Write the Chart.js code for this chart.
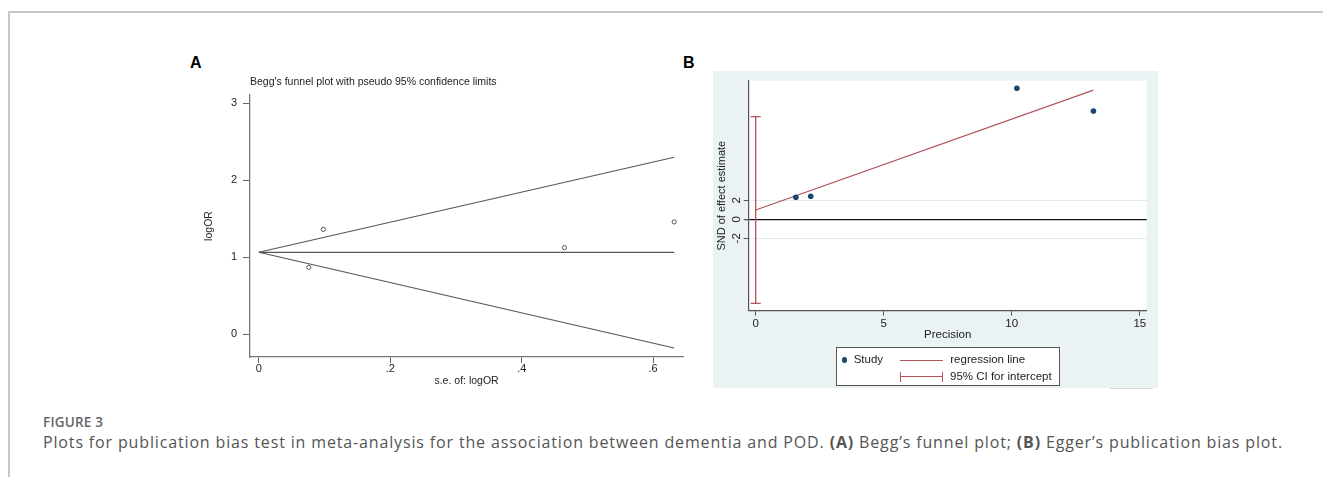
<!DOCTYPE html>
<html>
<head>
<meta charset="utf-8">
<script src="https://cdn.jsdelivr.net/npm/chart.js@4/dist/chart.umd.min.js"></script>
<style>
  html, body { margin: 0; padding: 0; background: #fff; }
  body { width: 1323px; height: 477px; position: relative; overflow: hidden; font-family: "Liberation Sans", Arial, sans-serif; }
  .frame { position: absolute; left: 8px; top: 11px; right: -4px; bottom: -4px; border-left: 2px solid #c8c8c8; border-top: 2px solid #c8c8c8; }
  .panel-letter { position: absolute; font-size: 16px; line-height: 16px; font-weight: bold; color: #000; }
  canvas { position: absolute; }
  #egger { background: #eaf2f3; }
  #eggerLegend { position: absolute; left: 835.7px; top: 347.3px; width: 222px; height: 37px; border: 1px solid #555; background: #fff; font-size: 11.5px; line-height: 11.5px; color: #222; }
  #eggerLegend span { position: absolute; white-space: nowrap; }
  .figno { position: absolute; left: 43px; top: 414px; font-family: "Open Sans", sans-serif; font-size: 13.5px; line-height: 16px; font-weight: 600; color: #666; letter-spacing: 0.2px; }
  .caption { position: absolute; left: 43px; top: 432px; font-family: "Open Sans", sans-serif; font-size: 16px; line-height: 20px; letter-spacing: 0.85px; color: #555; white-space: nowrap; }
  .caption b { font-weight: 700; }
</style>
</head>
<body>
<div class="frame"></div>
<div class="panel-letter" style="left:190px; top:54.6px;">A</div>
<div class="panel-letter" style="left:683px; top:54.6px;">B</div>

<canvas id="begg" width="492" height="317" style="left:196px; top:70px;"></canvas>
<canvas id="egger" width="445" height="317" style="left:713px; top:71px;"></canvas>
<div id="eggerLegend"></div>
<div style="position:absolute; left:1110px; top:388px; width:43px; height:1px; background:#d4d8d9;"></div>

<div class="figno">FIGURE 3</div>
<div class="caption">Plots for publication bias test in meta-analysis for the association between dementia and POD. <b>(A)</b> Begg’s funnel plot; <b>(B)</b> Egger’s publication bias plot.</div>

<script>
// A: Begg's funnel plot
const beggSe = [0.076, 0.098, 0.465, 0.632];
const beggLogOR = [0.867, 1.36, 1.123, 1.457];
const beggLimitSe = [0, 0.632];
const beggUpper = [1.062, 2.296];
const beggLower = [1.062, -0.179];
const beggPooled = [1.062, 1.062];
const beggXTicks = [0, 0.2, 0.4, 0.6];
const beggXTickLabels = ['0', '.2', '.4', '.6'];
const beggYTicks = [0, 1, 2, 3];

// B: Egger's publication bias plot
const eggerPrecision = [1.57, 2.15, 10.2, 13.19];
const eggerSnd = [2.32, 2.42, 13.8, 11.4];
const eggerRegX = [0, 13.19];
const eggerRegY = [0.98, 13.6];
const eggerCiX = [0, 0];
const eggerCiY = [-8.84, 10.8];
const eggerXTicks = [0, 5, 10, 15];
const eggerYTicks = [-2, 0, 2];

const maroon = '#b0545b';
const navy = '#1a476f';

Chart.defaults.font.family = '"Liberation Sans", Arial, sans-serif';
Chart.defaults.color = '#222';

function toPoints(xs, ys) {
  return xs.map((x, i) => ({ x: x, y: ys[i] }));
}

function fixedTicks(values) {
  return scale => { scale.ticks = values.map(v => ({ value: v })); };
}

function createFunnelChart() {
  const line = (label, ys) => ({
    label: label,
    data: toPoints(beggLimitSe, ys),
    showLine: true,
    pointRadius: 0,
    borderColor: '#555',
    borderWidth: 1.1
  });
  return new Chart(document.getElementById('begg'), {
    type: 'scatter',
    data: {
      datasets: [
        {
          label: 'Study',
          data: toPoints(beggSe, beggLogOR),
          pointRadius: 2.1,
          pointBorderWidth: 0.9,
          pointBorderColor: '#444',
          pointBackgroundColor: '#fff'
        },
        line('upper limit', beggUpper),
        line('lower limit', beggLower),
        line('pooled', beggPooled)
      ]
    },
    options: {
      responsive: false,
      animation: false,
      devicePixelRatio: 1,
      layout: { padding: 0 },
      plugins: {
        legend: { display: false },
        tooltip: { enabled: false },
        title: {
          display: true,
          text: "Begg's funnel plot with pseudo 95% confidence limits",
          align: 'start',
          fullSize: false,
          color: '#222',
          font: { size: 10.5, weight: 'normal', lineHeight: 1.2 },
          padding: { top: 5.4, bottom: 7 }
        }
      },
      scales: {
        x: {
          type: 'linear',
          min: -0.0135,
          max: 0.6456,
          afterBuildTicks: fixedTicks(beggXTicks),
          afterFit: s => { s.height = 30; s.paddingLeft = 0; s.paddingRight = 0; },
          grid: { drawOnChartArea: false, tickLength: 6, tickColor: '#666', tickWidth: 1 },
          border: { color: '#777', width: 1.3 },
          ticks: {
            callback: v => beggXTickLabels[beggXTicks.indexOf(v)],
            padding: 0, maxRotation: 0, autoSkip: false,
            font: { size: 11, lineHeight: 1 }
          },
          title: { display: true, text: 's.e. of: logOR', font: { size: 10.5, lineHeight: 1.2 }, padding: 0 }
        },
        y: {
          type: 'linear',
          min: -0.297,
          max: 3.105,
          afterBuildTicks: fixedTicks(beggYTicks),
          afterFit: s => { s.width = 54; s.paddingTop = 0; s.paddingBottom = 0; },
          grid: { drawOnChartArea: false, tickLength: 7, tickColor: '#666', tickWidth: 1 },
          border: { color: '#777', width: 1.3 },
          ticks: { padding: 6, font: { size: 11, lineHeight: 1 } },
          title: { display: true, text: 'logOR', font: { size: 10.5, lineHeight: 1.2 }, padding: { top: 6.7, bottom: 0 } }
        }
      }
    }
  });
}

// white plot region on the blue-grey graph background
const plotRegion = {
  id: 'plotRegion',
  beforeDraw(chart) {
    const a = chart.chartArea;
    chart.ctx.save();
    chart.ctx.fillStyle = '#fff';
    chart.ctx.fillRect(a.left, a.top, a.right - a.left, a.bottom - a.top);
    chart.ctx.restore();
  }
};

function createEggerChart() {
  return new Chart(document.getElementById('egger'), {
    type: 'scatter',
    data: {
      datasets: [
        {
          label: 'Study',
          data: toPoints(eggerPrecision, eggerSnd),
          pointRadius: 2.8,
          pointBorderWidth: 0,
          pointBackgroundColor: navy,
          borderColor: navy
        },
        {
          label: 'regression line',
          data: toPoints(eggerRegX, eggerRegY),
          showLine: true,
          pointRadius: 0,
          borderColor: maroon,
          borderWidth: 1.2
        },
        {
          label: '95% CI for intercept',
          data: toPoints(eggerCiX, eggerCiY),
          showLine: true,
          borderColor: maroon,
          borderWidth: 1.3,
          pointStyle: 'line',
          pointRadius: 5,
          pointBorderColor: maroon,
          pointBorderWidth: 1.3
        }
      ]
    },
    options: {
      responsive: false,
      animation: false,
      devicePixelRatio: 1,
      layout: { padding: { top: 9.7, right: 11.3, bottom: 46.1, left: 0 } },
      plugins: {
        legend: { display: false },
        tooltip: { enabled: false }
      },
      scales: {
        x: {
          type: 'linear',
          min: -0.273,
          max: 15.27,
          afterBuildTicks: fixedTicks(eggerXTicks),
          afterFit: s => { s.height = 31.2; s.paddingLeft = 0; s.paddingRight = 0; },
          grid: { drawOnChartArea: false, tickLength: 5, tickColor: '#555', tickWidth: 1 },
          border: { color: '#555', width: 1.2 },
          ticks: { padding: 2.5, maxRotation: 0, autoSkip: false, font: { size: 11.5, lineHeight: 1 } },
          title: { display: true, text: 'Precision', font: { size: 11.5, lineHeight: 1.2 }, padding: 0 }
        },
        y: {
          type: 'linear',
          min: -9.62,
          max: 14.59,
          afterBuildTicks: fixedTicks(eggerYTicks),
          afterFit: s => { s.width = 35.7; s.paddingTop = 0; s.paddingBottom = 0; },
          grid: {
            color: c => (c.tick && c.tick.value === 0 ? '#111' : '#e2ebed'),
            lineWidth: c => (c.tick && c.tick.value === 0 ? 1.3 : 1),
            tickLength: 5,
            tickColor: '#555'
          },
          border: { color: '#555', width: 1.2 },
          ticks: { padding: 1.9, minRotation: 90, maxRotation: 90, crossAlign: 'center', font: { size: 11.5, lineHeight: 1 } },
          title: { display: true, text: 'SND of effect estimate', font: { size: 11, lineHeight: 1.2 }, padding: { top: 2.4, bottom: 0 } }
        }
      }
    },
    plugins: [plotRegion]
  });
}

// legend box laid out like the Stata legend, two columns
function buildEggerLegend(chart) {
  const [study, reg, ci] = chart.data.datasets;
  const box = document.getElementById('eggerLegend');
  box.innerHTML =
    `<span style="left:4.9px;top:9px;width:5.4px;height:5.4px;border-radius:50%;background:${study.pointBackgroundColor}"></span>` +
    `<span style="left:17px;top:6px">${study.label}</span>` +
    `<span style="left:63.3px;top:11.4px;width:43.3px;height:1.3px;background:${reg.borderColor}"></span>` +
    `<span style="left:113.6px;top:6px">${reg.label}</span>` +
    `<span style="left:63.3px;top:27.8px;width:43.3px;height:1.3px;background:${ci.borderColor}"></span>` +
    `<span style="left:63.3px;top:23.3px;width:1.3px;height:10px;background:${ci.borderColor}"></span>` +
    `<span style="left:105.3px;top:23.3px;width:1.3px;height:10px;background:${ci.borderColor}"></span>` +
    `<span style="left:113.3px;top:22.6px">${ci.label}</span>`;
}

createFunnelChart();
const egger = createEggerChart();
buildEggerLegend(egger);
</script>
</body>
</html>
